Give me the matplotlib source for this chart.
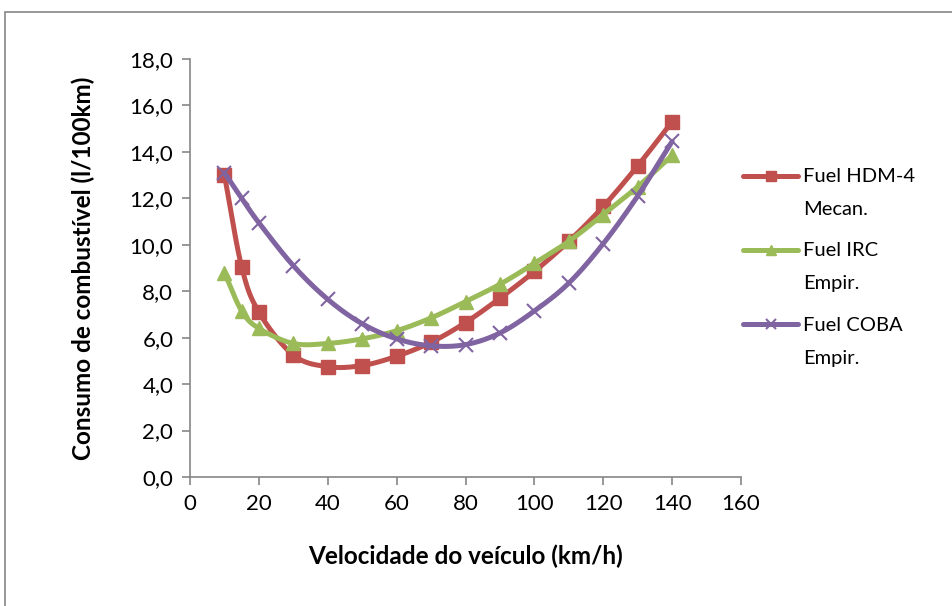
import matplotlib
matplotlib.use("Agg")
import matplotlib.pyplot as plt
import numpy as np
from matplotlib.legend_handler import HandlerLine2D
from matplotlib.patches import Rectangle
from matplotlib.ticker import FuncFormatter

plt.rcParams["font.family"] = ["Lato", "DejaVu Sans"]

# ---------- dados ------------------------------------------------------------
velocidade = [10, 15, 20, 30, 40, 50, 60, 70, 80, 90, 100, 110, 120, 130, 140]
fuel_hdm4 = [13.0, 9.05, 7.1, 5.25, 4.75, 4.8, 5.2, 5.8, 6.65, 7.7, 8.85, 10.15, 11.65, 13.4, 15.3]
fuel_irc = [8.8, 7.15, 6.4, 5.75, 5.75, 5.95, 6.3, 6.85, 7.55, 8.3, 9.2, 10.15, 11.3, 12.5, 13.85]
fuel_coba = [13.1, 12.0, 10.95, 9.1, 7.65, 6.6, 5.95, 5.65, 5.7, 6.2, 7.15, 8.35, 10.05, 12.1, 14.45]

labels = ["Fuel HDM-4\nMecan.", "Fuel IRC\nEmpir.", "Fuel COBA\nEmpir."]
colors = ["#C0504D", "#9BBB59", "#8064A2"]
markers = ["s", "^", "x"]


# ---------- linha suavizada (estilo Excel, Catmull-Rom) ----------------------
def _smooth(x, y, n=20):
    x = np.asarray(x, float)
    y = np.asarray(y, float)
    px = np.concatenate([[2 * x[0] - x[1]], x, [2 * x[-1] - x[-2]]])
    py = np.concatenate([[2 * y[0] - y[1]], y, [2 * y[-1] - y[-2]]])
    xs, ys = [], []
    t = np.linspace(0, 1, n, endpoint=False)
    for i in range(1, len(px) - 2):
        for p, out in ((px, xs), (py, ys)):
            p0, p1, p2, p3 = p[i - 1], p[i], p[i + 1], p[i + 2]
            out.append(0.5 * (2 * p1 + (-p0 + p2) * t
                              + (2 * p0 - 5 * p1 + 4 * p2 - p3) * t ** 2
                              + (-p0 + 3 * p1 - 3 * p2 + p3) * t ** 3))
    xs.append([x[-1]])
    ys.append([y[-1]])
    return np.concatenate(xs), np.concatenate(ys)


class _TopLine(HandlerLine2D):
    """Legenda: a linha fica alinhada com a primeira linha do texto."""
    def create_artists(self, *args, **kw):
        arts = super().create_artists(*args, **kw)
        for a in arts:
            a.set_ydata(np.asarray(a.get_ydata()) + 12.5)
        return arts


fig = plt.figure(figsize=(9.53, 6.06), dpi=100)
ax = fig.add_axes([190 / 953, 1 - 477 / 606, 551 / 953, 418 / 606])

# moldura do gráfico
fig.patches.append(Rectangle((5 / 953, -0.05), 1.05, 1 - 12 / 606 + 0.05,
                             transform=fig.transFigure, fill=False,
                             edgecolor="#868686", linewidth=1.2))

handles = []
for y, lab, c, m in zip([fuel_hdm4, fuel_irc, fuel_coba], labels, colors, markers):
    sx, sy = _smooth(velocidade, y)
    ax.plot(sx, sy, color=c, linewidth=3.6, solid_capstyle="round")
    if m == "x":
        ax.plot(velocidade, y, linestyle="none", marker=m, color=c,
                markersize=10, markeredgewidth=1.5)
    else:
        ax.plot(velocidade, y, linestyle="none", marker=m, color=c,
                markersize=10, markeredgecolor=c)
    h, = ax.plot([], [], color=c, linewidth=3.6, marker=m, markersize=7,
                 markeredgewidth=1.5 if m == "x" else 1.0, label=lab,
                 solid_capstyle="round")
    handles.append(h)

ax.set_xlim(0, 160)
ax.set_ylim(0, 18)
ax.set_xticks(range(0, 161, 20))
ax.set_yticks(np.arange(0, 18.1, 2))
ax.yaxis.set_major_formatter(FuncFormatter(lambda v, _: f"{v:.1f}".replace(".", ",")))

for s in ("top", "right"):
    ax.spines[s].set_visible(False)
for s in ("left", "bottom"):
    ax.spines[s].set_color("#868686")
    ax.spines[s].set_linewidth(1.2)
ax.tick_params(direction="out", length=6, width=1.2, color="#868686",
               labelsize=16, pad=6)

ax.set_xlabel("Velocidade do veículo (km/h)", fontsize=17.5, fontweight="bold", labelpad=22)
ax.set_ylabel("Consumo de combustível (l/100km)", fontsize=17.5, fontweight="bold", labelpad=25)

leg = fig.legend(handles=handles, loc="upper left", bbox_to_anchor=(735 / 953, 1 - 160 / 606),
                 frameon=False, fontsize=14.5, handlelength=2.75, handletextpad=0.25,
                 labelspacing=1.2, borderaxespad=0,
                 handler_map={h: _TopLine() for h in handles})
for t in leg.get_texts():
    t.set_linespacing(2.15)

fig.savefig("out.png", dpi=100)
